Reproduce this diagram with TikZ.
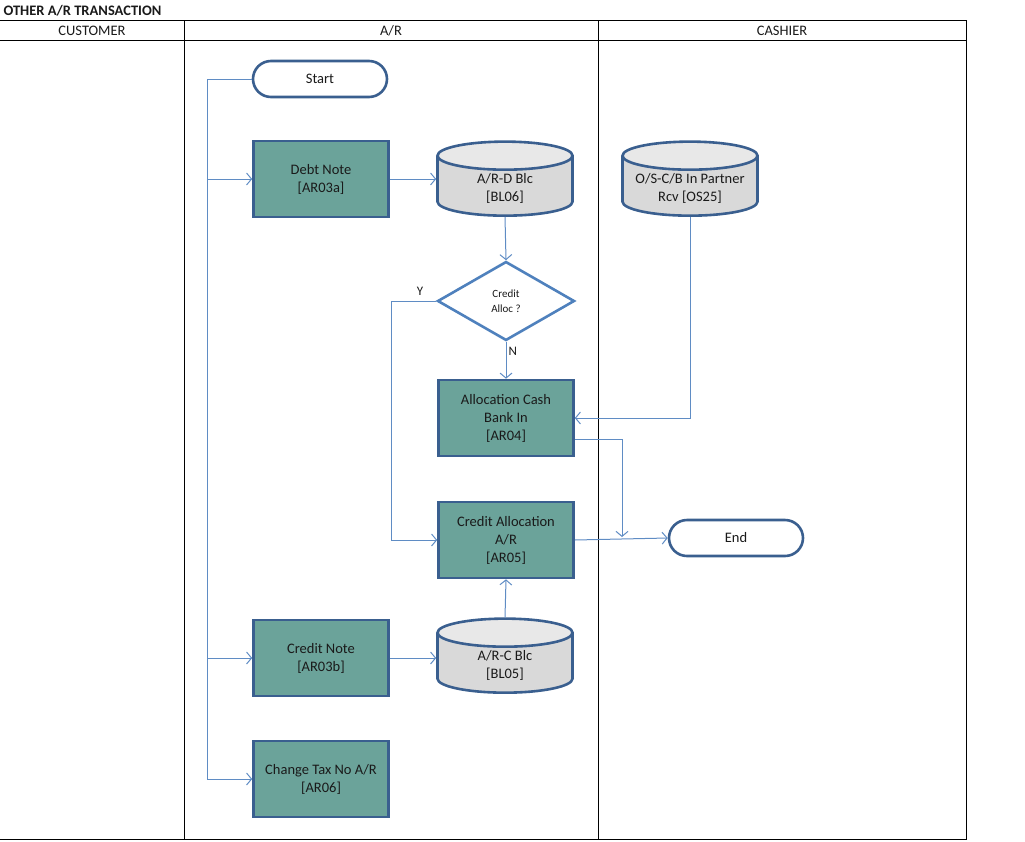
\documentclass[tikz,border=0pt]{standalone}
\usepackage{fontspec}
\setmainfont{Carlito}
\usetikzlibrary{shapes.geometric, arrows.meta}

\definecolor{boxteal}{HTML}{6BA39A}
\definecolor{boxedge}{HTML}{3A5F8F}
\definecolor{diaedge}{HTML}{4F81BD}
\definecolor{cylbody}{HTML}{D9D9D9}
\definecolor{cyltop}{HTML}{E8E8E8}
\definecolor{linkblue}{HTML}{5F8CC4}
\definecolor{inktext}{HTML}{1A1A1A}

\begin{document}
\begin{tikzpicture}[x=1pt,y=-1pt,
    every node/.style={text=inktext, font=\fontsize{14.5}{18}\selectfont},
    lane/.style={draw=black, line width=0.9pt},
    task/.style={rectangle, draw=boxedge, fill=boxteal, line width=2.6pt,
      minimum width=135pt, minimum height=76pt, align=center},
    term/.style={rectangle, rounded corners=18pt, draw=boxedge, fill=white,
      line width=2.6pt, minimum width=134pt, minimum height=36pt},
    store/.style={cylinder, shape border rotate=90, aspect=0.23, draw=boxedge,
      line width=2.6pt, cylinder uses custom fill, cylinder body fill=cylbody,
      cylinder end fill=cyltop, minimum width=135pt, minimum height=69pt,
      text width=118pt, align=flush center, inner sep=2pt},
    query/.style={diamond, draw=diaedge, fill=white, line width=2.6pt,
      minimum width=137pt, minimum height=79pt, inner sep=0pt, align=center,
      font=\fontsize{11}{15}\selectfont},
    flow/.style={draw=linkblue, line width=1pt,
      -{Straight Barb[length=5pt, width=12pt]}}]
  \useasboundingbox (0,0) rectangle (1025,841);

  % swimlanes
  \node[anchor=west, font=\bfseries\fontsize{14.5}{16}\selectfont] (title) at (0,11) {OTHER A/R TRANSACTION};
  \draw[lane] (0,20) -- (966,20) -- (966,839) -- (0,839);
  \draw[lane] (0,40) -- (966,40);
  \draw[lane] (184,20) -- (184,839);
  \draw[lane] (598,20) -- (598,839);
  \node[font=\fontsize{14.5}{16}\selectfont] (cust) at (92,31) {CUSTOMER};
  \node[font=\fontsize{14.5}{16}\selectfont] (ar) at (391,31) {A/R};
  \node[font=\fontsize{14.5}{16}\selectfont] (cash) at (782,31) {CASHIER};

  % steps
  \node[term] (start) at (320,79) {Start};
  \node[task] (debt) at (321,179) {Debt Note\\{[AR03a]}};
  \node[store] (ardblc) at (505,188) {A/R-D Blc\\{[BL06]}};
  \node[store] (osblc) at (690,188) {O/S-C/B In Partner\\Rcv {[OS25]}};
  \node[query] (alloc) at (506,301) {Credit\\Alloc ?};
  \node[task] (ar04) at (506,418) {Allocation Cash\\Bank In\\{[AR04]}};
  \node[task] (ar05) at (506,540) {Credit Allocation\\A/R\\{[AR05]}};
  \node[term] (end) at (736,538) {End};
  \node[task] (credit) at (321,658) {Credit Note\\{[AR03b]}};
  \node[store] (arcblc) at (505,665) {A/R-C Blc\\{[BL05]}};
  \node[task] (tax) at (321,779) {Change Tax No A/R\\{[AR06]}};

  % connectors
  \coordinate (trunk) at (207,779);
  \coordinate (yloop) at (391,540);
  \coordinate (drop) at (622,537);
  \draw[flow] (start.west) -| (trunk) -- (tax.west);
  \draw[flow] (trunk |- debt.west) -- (debt.west);
  \draw[flow] (trunk |- credit.west) -- (credit.west);
  \draw[flow] (debt.east) -- (debt.east -| ardblc.west);
  \draw[flow] (credit.east) -- (credit.east -| arcblc.west);
  \draw[flow] (ardblc.south) -- (alloc.north);
  \draw[flow] (alloc.south) -- (ar04.north) node[pos=0.25, right, inner sep=2pt, font=\fontsize{13}{15}\selectfont] (nlab) {N};
  \draw[flow] (alloc.west) -| (yloop) -- (ar05.west);
  \node[font=\fontsize{13}{15}\selectfont] (ylab) at (420,291) {Y};
  \draw[flow] (osblc.south) |- (ar04.east);
  \draw[flow] ([yshift=-21pt]ar04.east) -| (drop);
  \draw[flow] (ar05.east) -- (end.west);
  \draw[flow] (arcblc.north) -- (ar05.south);
\end{tikzpicture}
\end{document}
